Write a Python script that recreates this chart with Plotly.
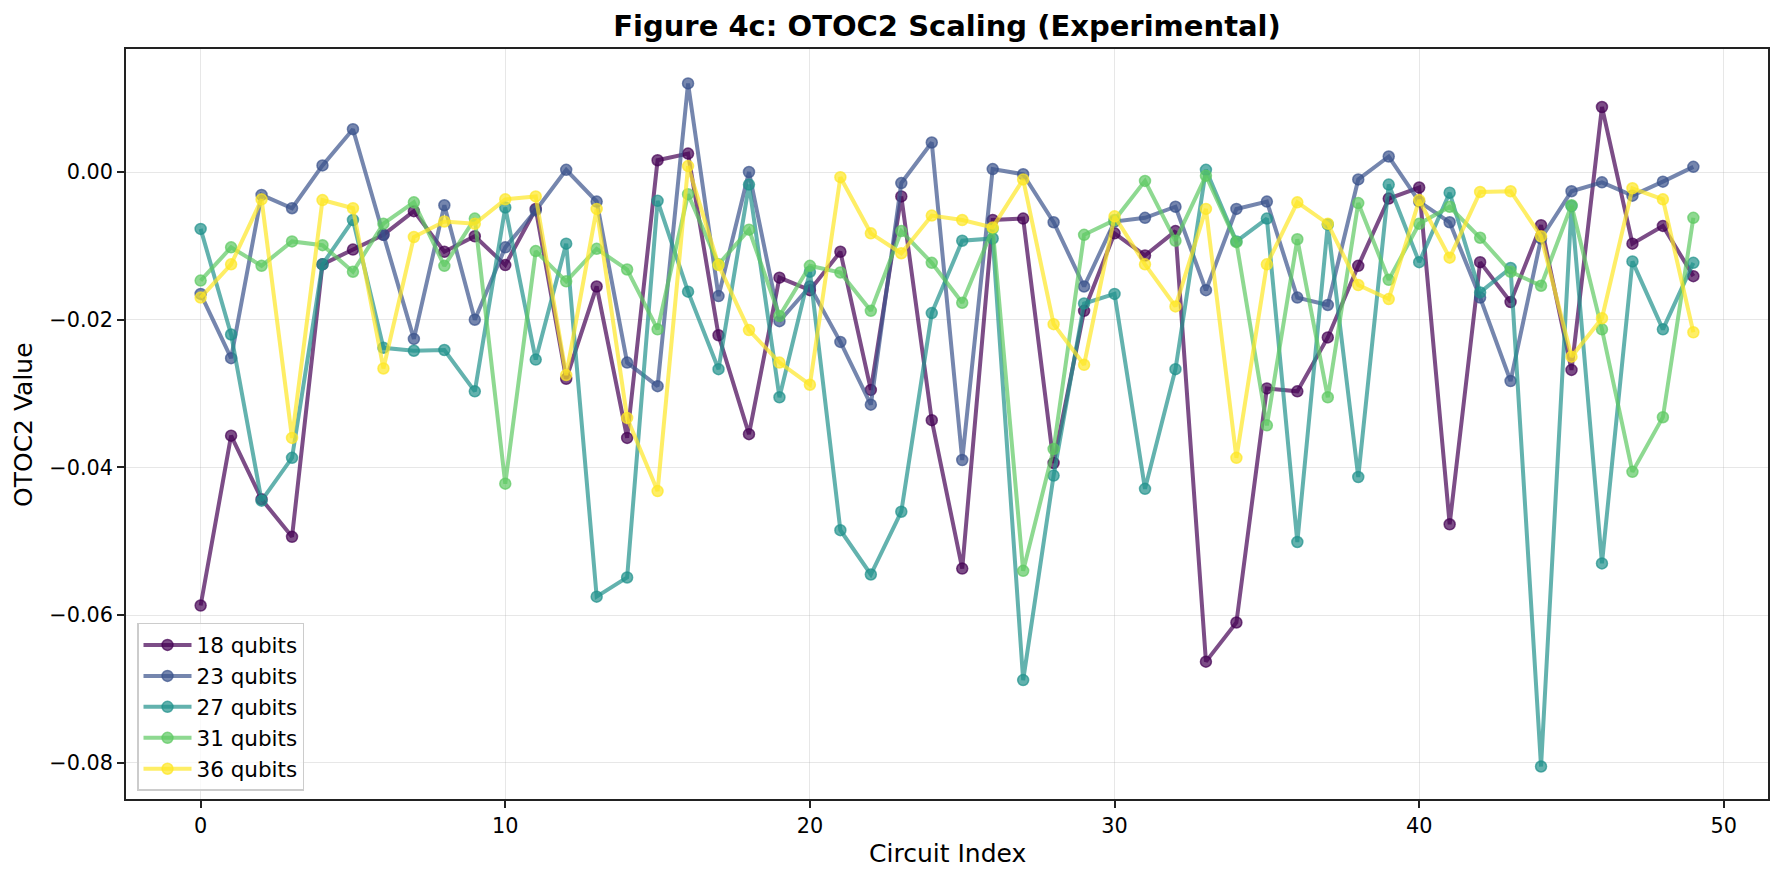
import plotly.graph_objects as go

circuit_index = list(range(50))

q18 = [-0.0587, -0.0357, -0.0443, -0.0494, -0.0125, -0.0105, -0.0085, -0.0053, -0.0108, -0.0087,
       -0.0126, -0.0050, -0.0280, -0.0155, -0.0360, 0.0016, 0.0025, -0.0221, -0.0355, -0.0143,
       -0.0160, -0.0108, -0.0295, -0.0033, -0.0336, -0.0537, -0.0065, -0.0063, -0.0394, -0.0188,
       -0.0083, -0.0113, -0.0080, -0.0663, -0.0610, -0.0293, -0.0297, -0.0224, -0.0127, -0.0036,
       -0.0021, -0.0477, -0.0122, -0.0176, -0.0072, -0.0268, 0.0088, -0.0097, -0.0073, -0.0141]

q23 = [-0.0165, -0.0252, -0.0031, -0.0049, 0.0009, 0.0058, -0.0085, -0.0226, -0.0045, -0.0200,
       -0.0102, -0.0052, 0.0003, -0.0040, -0.0258, -0.0290, 0.0120, -0.0168, 0.0000, -0.0202,
       -0.0155, -0.0230, -0.0315, -0.0015, 0.0040, -0.0390, 0.0004, -0.0003, -0.0068, -0.0155,
       -0.0067, -0.0062, -0.0047, -0.0160, -0.0050, -0.0040, -0.0170, -0.0180, -0.0010, 0.0021,
       -0.0040, -0.0068, -0.0170, -0.0283, -0.0090, -0.0026, -0.0014, -0.0032, -0.0013, 0.0007]

q27 = [-0.0077, -0.0220, -0.0445, -0.0387, -0.0125, -0.0065, -0.0238, -0.0242, -0.0241, -0.0297,
       -0.0048, -0.0254, -0.0097, -0.0575, -0.0549, -0.0039, -0.0162, -0.0267, -0.0017, -0.0305,
       -0.0135, -0.0485, -0.0545, -0.0460, -0.0191, -0.0093, -0.0090, -0.0688, -0.0411, -0.0178,
       -0.0165, -0.0429, -0.0267, 0.0003, -0.0094, -0.0063, -0.0501, -0.0071, -0.0413, -0.0017,
       -0.0122, -0.0028, -0.0163, -0.0130, -0.0805, -0.0046, -0.0530, -0.0121, -0.0213, -0.0123]

q31 = [-0.0147, -0.0102, -0.0127, -0.0094, -0.0099, -0.0135, -0.0070, -0.0041, -0.0127, -0.0063,
       -0.0422, -0.0107, -0.0148, -0.0104, -0.0132, -0.0213, -0.0030, -0.0125, -0.0078, -0.0195,
       -0.0127, -0.0136, -0.0188, -0.0080, -0.0123, -0.0177, -0.0077, -0.0540, -0.0375, -0.0085,
       -0.0065, -0.0012, -0.0093, -0.0005, -0.0095, -0.0343, -0.0091, -0.0305, -0.0042, -0.0146,
       -0.0070, -0.0047, -0.0089, -0.0135, -0.0154, -0.0045, -0.0213, -0.0406, -0.0332, -0.0062]

q36 = [-0.0170, -0.0125, -0.0037, -0.0360, -0.0038, -0.0049, -0.0266, -0.0088, -0.0067, -0.0070,
       -0.0037, -0.0033, -0.0275, -0.0050, -0.0333, -0.0432, 0.0008, -0.0126, -0.0214, -0.0258,
       -0.0288, -0.0007, -0.0083, -0.0110, -0.0059, -0.0065, -0.0075, -0.0010, -0.0206, -0.0261,
       -0.0060, -0.0125, -0.0182, -0.0050, -0.0387, -0.0125, -0.0041, -0.0070, -0.0153, -0.0172,
       -0.0038, -0.0116, -0.0027, -0.0026, -0.0087, -0.0250, -0.0198, -0.0022, -0.0037, -0.0217]

series_names = ["18 qubits", "23 qubits", "27 qubits", "31 qubits", "36 qubits"]
series_values = [q18, q23, q27, q31, q36]
series_colors = [(68, 1, 84), (59, 82, 139), (33, 145, 140), (94, 201, 98), (253, 231, 37)]

fig = go.Figure()
for name, vals, (r, g, b) in zip(series_names, series_values, series_colors):
    c = f"rgba({r},{g},{b},0.7)"
    fig.add_trace(go.Scatter(
        x=circuit_index, y=vals, name=name, mode="lines+markers",
        line=dict(color=c, width=4),
        marker=dict(color=c, size=11, line=dict(color=c, width=1.5)),
    ))

axis_common = dict(
    showline=True, linecolor="#222222", linewidth=1.6, mirror=True,
    ticks="outside", ticklen=7, tickwidth=1.6, tickcolor="#222222",
    showgrid=True, gridcolor="rgba(176,176,176,0.3)", gridwidth=1.2,
    zeroline=False, tickfont=dict(size=20.8, color="black"), automargin=False,
)

fig.update_layout(
    width=1784, height=882,
    margin=dict(l=126, r=16, t=49, b=83),
    paper_bgcolor="white", plot_bgcolor="white",
    font=dict(family="DejaVu Sans", color="black"),
    title=dict(text="<b>Figure 4c: OTOC2 Scaling (Experimental)</b>",
               x=(126 + 1768) / 2 / 1784, xanchor="center",
               y=1 - 26 / 882, yanchor="middle", font=dict(size=29)),
    xaxis=dict(range=[-2.45, 51.45], tickvals=[0, 10, 20, 30, 40, 50], **axis_common),
    yaxis=dict(range=[-0.0849, 0.01666], tickvals=[-0.08, -0.06, -0.04, -0.02, 0.0],
               tickformat=".2f", **axis_common),
    legend=dict(x=0.0067, y=0.0107, xanchor="left", yanchor="bottom",
                bgcolor="rgba(255,255,255,0.8)", bordercolor="#cccccc", borderwidth=1.5,
                font=dict(size=21.5), tracegroupgap=0, itemwidth=48),
    showlegend=True,
    annotations=[
        dict(text="Circuit Index", xref="paper", yref="paper", x=0.5, y=(799 - 853) / 750,
             xanchor="center", yanchor="middle", showarrow=False, font=dict(size=25)),
        dict(text="OTOC2 Value", xref="paper", yref="paper", x=(23 - 126) / 1642, y=0.5,
             xanchor="center", yanchor="middle", textangle=-90, showarrow=False,
             font=dict(size=25)),
    ],
)

fig.write_html("out.html", config={"displayModeBar": False},
               post_script="document.body.style.margin='0';document.body.style.overflow='hidden';")
